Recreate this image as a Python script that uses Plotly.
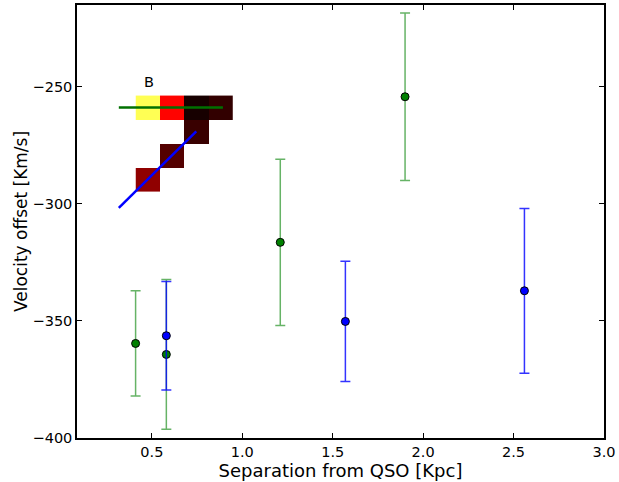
import plotly.graph_objects as go

# Measured velocity offsets versus projected separation from the QSO
green_sep = [0.41, 0.58, 1.21, 1.90]
green_vel = [-359.6, -364.3, -316.4, -254.2]
green_err = [22.5, 32.0, 35.5, 35.8]

blue_sep = [0.58, 1.57, 2.56]
blue_vel = [-356.3, -350.2, -337.1]
blue_err = [23.2, 25.7, 35.2]

# Pixel map of component B (rows top to bottom, None = no emission)
pix_z = [
    [0.83, 0.37, 0.02, 0.06],
    [None, None, 0.07, None],
    [None, 0.11, None, None],
    [0.20, None, None, None],
]
pix_cols = [0, 1, 2, 3]
pix_rows = [0, 1, 2, 3]

# Lines traced across the pixel map
green_line_x = [-1.2, 3.1]
green_line_y = [0.0, 0.0]
blue_line_x = [-1.2, 2.0]
blue_line_y = [4.2, 1.0]

hot = [[0.0, "rgb(10,0,0)"], [0.365, "rgb(255,0,0)"],
       [0.746, "rgb(255,255,0)"], [1.0, "rgb(255,255,255)"]]

fig = go.Figure()

fig.add_trace(go.Scatter(
    x=green_sep, y=green_vel, mode="markers",
    error_y=dict(type="data", array=green_err, color="rgba(0,128,0,0.6)",
                 thickness=1.5, width=5),
    marker=dict(color="#008000", size=8, line=dict(color="black", width=1)),
    showlegend=False,
))
fig.add_trace(go.Scatter(
    x=blue_sep, y=blue_vel, mode="markers",
    error_y=dict(type="data", array=blue_err, color="rgba(0,0,255,0.8)",
                 thickness=1.5, width=5),
    marker=dict(color="#0000ff", size=8, line=dict(color="black", width=1)),
    showlegend=False,
))

fig.add_trace(go.Heatmap(
    z=pix_z, x=pix_cols, y=pix_rows, colorscale=hot, zmin=0, zmax=1,
    showscale=False, xaxis="x2", yaxis="y2", hoverongaps=False,
))
fig.add_trace(go.Scatter(
    x=green_line_x, y=green_line_y, mode="lines", xaxis="x2", yaxis="y2",
    line=dict(color="#007000", width=2.5), showlegend=False,
))
fig.add_trace(go.Scatter(
    x=blue_line_x, y=blue_line_y, mode="lines", xaxis="x2", yaxis="y2",
    line=dict(color="#0000ff", width=2.5), showlegend=False,
))

axis_common = dict(
    showgrid=False, zeroline=False, showline=True, linecolor="black",
    linewidth=1.5, mirror="ticks", ticks="inside", ticklen=5,
    tickcolor="black", tickfont=dict(size=14.5, color="black"),
)

fig.update_layout(
    width=619, height=482,
    margin=dict(l=77, r=14, t=3, b=44),
    paper_bgcolor="white", plot_bgcolor="white",
    font=dict(family="DejaVu Sans", color="black"),
    xaxis=dict(range=[0.086, 3.0], tickvals=[0.5, 1.0, 1.5, 2.0, 2.5, 3.0],
               ticktext=["0.5", "1.0", "1.5", "2.0", "2.5", "3.0"],
               title=dict(text="Separation from QSO [Kpc]", font=dict(size=18),
                          standoff=3),
               **axis_common),
    yaxis=dict(range=[-400, -215], tickvals=[-400, -350, -300, -250],
               title=dict(text="Velocity offset [Km/s]", font=dict(size=17),
                          standoff=1),
               **axis_common),
    xaxis2=dict(domain=[0.0625, 0.3087], range=[-1.567, 3.794],
                visible=False, anchor="y2", fixedrange=True),
    yaxis2=dict(domain=[0.5126, 0.846], range=[4.54, -1.5],
                visible=False, anchor="x2", fixedrange=True),
    annotations=[dict(text="B", x=0.05, y=-1.05, xref="x2", yref="y2",
                      showarrow=False, font=dict(size=14.5, color="black"))],
)

fig.write_html("out.html")
